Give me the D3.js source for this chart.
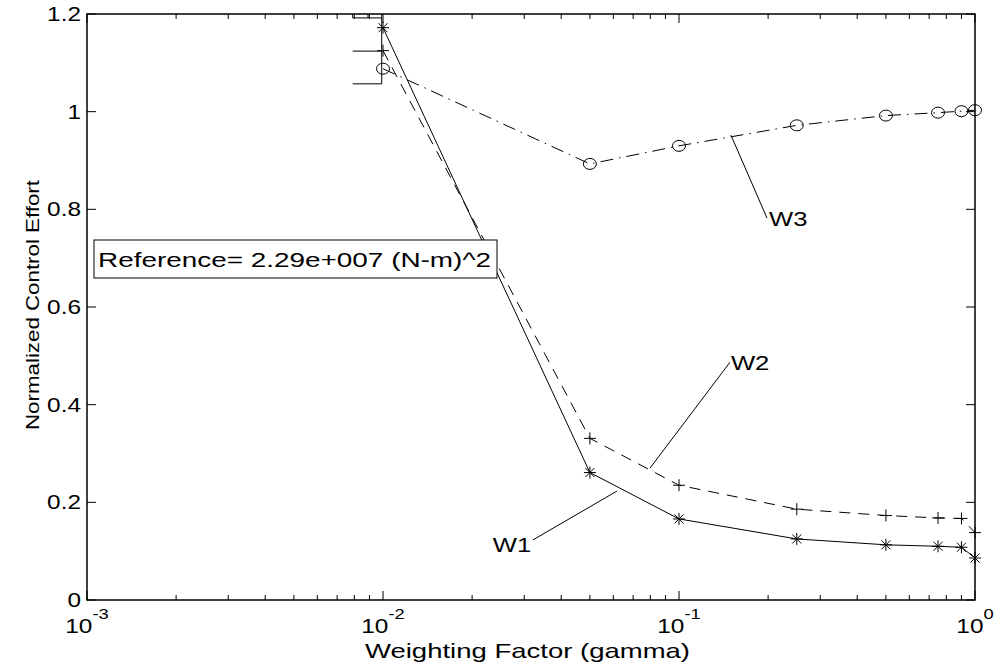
<!DOCTYPE html>
<html>
<head>
<meta charset="utf-8">
<script src="https://cdn.jsdelivr.net/npm/d3@7"></script>
<style>
  html, body { margin: 0; padding: 0; background: #fff; }
  svg { display: block; }
  text { font-family: "Liberation Sans", Arial, Helvetica, sans-serif; fill: #000; }
</style>
</head>
<body>
<svg id="chart" width="1000" height="667"></svg>
<script>
// ---- data ----
const gamma = [0.01, 0.05, 0.1, 0.25, 0.5, 0.75, 0.9, 1.0];
const w1 = [1.172, 0.261, 0.166, 0.125, 0.113, 0.110, 0.108, 0.086];
const w2 = [1.125, 0.331, 0.235, 0.186, 0.173, 0.168, 0.167, 0.138];
const w3 = [1.088, 0.893, 0.930, 0.972, 0.992, 0.998, 1.001, 1.003];
const yTicks = [0, 0.2, 0.4, 0.6, 0.8, 1, 1.2];
const yTickLabels = ["0", "0.2", "0.4", "0.6", "0.8", "1", "1.2"];
const xTicks = [1e-3, 1e-2, 1e-1, 1];
const xTickExps = ["-3", "-2", "-1", "0"];
const xTitle = "Weighting Factor (gamma)";
const yTitle = "Normalized Control Effort";
const refText = "Reference= 2.29e+007 (N-m)^2";
// stray clipped segments drawn near gamma = 0.01 (data coords)
const strays = [
  [[0.0079, 1.124], [0.0099, 1.124]],
  [[0.0079, 1.057], [0.0099, 1.057]],
  [[0.0099, 1.2], [0.0099, 1.057]],
  [[0.0079, 1.192], [0.0099, 1.192]],
  [[0.0079, 1.2], [0.0079, 1.192]],
  [[0.0089, 1.2], [0.0089, 1.192]]
];
// annotation labels (data coords): text position, pointer line from -> to
const labels = [
  {name: "W1", at: [0.0235, 0.098], from: [0.0321, 0.123], to: [0.0617, 0.223]},
  {name: "W2", at: [0.1498, 0.471], from: [0.1487, 0.487], to: [0.0798, 0.270]},
  {name: "W3", at: [0.2014, 0.766], from: [0.1983, 0.782], to: [0.1498, 0.952]}
];

// ---- layout ----
const L = 87, R = 975, T = 14, B = 600;
const SX = 1.22; // horizontal stretch of text glyphs
const svg = d3.select("#chart");
const x = d3.scaleLog().domain([1e-3, 1]).range([L, R]);
const y = d3.scaleLinear().domain([0, 1.2]).range([B, T]);

function stretchedText(px, py, str, size, anchor) {
  const g = svg.append("g").attr("transform", `translate(${px},${py}) scale(${SX},1)`);
  return g.append("text").attr("x", 0).attr("y", 0)
    .attr("font-size", size).attr("text-anchor", anchor || "start").text(str);
}

// ---- axes box ----
svg.append("rect").attr("x", L).attr("y", T).attr("width", R - L).attr("height", B - T)
  .attr("fill", "none").attr("stroke", "#000").attr("stroke-width", 1.5);

// y ticks (inward, both sides)
const majorLen = 9, minorLen = 5;
yTicks.forEach((v, i) => {
  const py = y(v);
  svg.append("line").attr("x1", L).attr("x2", L + majorLen).attr("y1", py).attr("y2", py)
    .attr("stroke", "#000").attr("stroke-width", 1);
  svg.append("line").attr("x1", R).attr("x2", R - majorLen).attr("y1", py).attr("y2", py)
    .attr("stroke", "#000").attr("stroke-width", 1);
  stretchedText(L - 6, py + 7, yTickLabels[i], 20, "end");
});

// x ticks: major + minor (log)
const minor = [];
for (let e = -3; e < 0; e++) for (let m = 2; m <= 9; m++) minor.push(m * Math.pow(10, e));
minor.forEach(v => {
  const px = x(v);
  svg.append("line").attr("x1", px).attr("x2", px).attr("y1", B).attr("y2", B - minorLen)
    .attr("stroke", "#000").attr("stroke-width", 1);
  svg.append("line").attr("x1", px).attr("x2", px).attr("y1", T).attr("y2", T + minorLen)
    .attr("stroke", "#000").attr("stroke-width", 1);
});
xTicks.forEach((v, i) => {
  const px = x(v);
  svg.append("line").attr("x1", px).attr("x2", px).attr("y1", B).attr("y2", B - majorLen)
    .attr("stroke", "#000").attr("stroke-width", 1);
  svg.append("line").attr("x1", px).attr("x2", px).attr("y1", T).attr("y2", T + majorLen)
    .attr("stroke", "#000").attr("stroke-width", 1);
  const g = svg.append("g").attr("transform", `translate(${px},633) scale(${SX},1)`);
  const t = g.append("text").attr("text-anchor", "middle").attr("font-size", 20);
  t.append("tspan").text("10");
  t.append("tspan").attr("dy", -14).attr("font-size", 15).text(xTickExps[i]);
});

// axis titles
svg.append("text").attr("x", 365).attr("y", 658).attr("font-size", 21)
  .attr("textLength", 325).attr("lengthAdjust", "spacingAndGlyphs").text(xTitle);
svg.append("text").attr("transform", "translate(39,430) rotate(-90)")
  .attr("x", 0).attr("y", 0).attr("font-size", 19)
  .attr("textLength", 250).attr("lengthAdjust", "spacingAndGlyphs").text(yTitle);

// ---- stray segments ----
strays.forEach(s => {
  svg.append("line").attr("x1", x(s[0][0])).attr("y1", y(s[0][1]))
    .attr("x2", x(s[1][0])).attr("y2", y(s[1][1]))
    .attr("stroke", "#000").attr("stroke-width", 1);
});

// ---- series lines ----
const line = d3.line().x(d => x(d[0])).y(d => y(d[1]));
function series(vals, dash) {
  const pts = gamma.map((g, i) => [g, vals[i]]);
  svg.append("path").datum(pts).attr("d", line).attr("fill", "none")
    .attr("stroke", "#000").attr("stroke-width", 1)
    .attr("stroke-dasharray", dash);
  return pts;
}
const p1 = series(w1, null);
const p2 = series(w2, "11,8");
const p3 = series(w3, "13,6,1.5,6");

// markers
const ms = 6;
p1.forEach(d => {
  const cx = x(d[0]), cy = y(d[1]);
  const g = svg.append("g").attr("stroke", "#000").attr("stroke-width", 1);
  g.append("line").attr("x1", cx - ms).attr("x2", cx + ms).attr("y1", cy).attr("y2", cy);
  g.append("line").attr("x1", cx).attr("x2", cx).attr("y1", cy - ms).attr("y2", cy + ms);
  g.append("line").attr("x1", cx - ms * 0.75).attr("x2", cx + ms * 0.75).attr("y1", cy - ms * 0.75).attr("y2", cy + ms * 0.75);
  g.append("line").attr("x1", cx - ms * 0.75).attr("x2", cx + ms * 0.75).attr("y1", cy + ms * 0.75).attr("y2", cy - ms * 0.75);
});
p2.forEach(d => {
  const cx = x(d[0]), cy = y(d[1]);
  const g = svg.append("g").attr("stroke", "#000").attr("stroke-width", 1);
  g.append("line").attr("x1", cx - ms).attr("x2", cx + ms).attr("y1", cy).attr("y2", cy);
  g.append("line").attr("x1", cx).attr("x2", cx).attr("y1", cy - ms).attr("y2", cy + ms);
});
p3.forEach(d => {
  svg.append("ellipse").attr("cx", x(d[0])).attr("cy", y(d[1])).attr("rx", 6.5).attr("ry", 5.5)
    .attr("fill", "none").attr("stroke", "#000").attr("stroke-width", 1);
});

// ---- annotations ----
labels.forEach(l => {
  svg.append("line").attr("x1", x(l.from[0])).attr("y1", y(l.from[1]))
    .attr("x2", x(l.to[0])).attr("y2", y(l.to[1]))
    .attr("stroke", "#000").attr("stroke-width", 1);
  stretchedText(x(l.at[0]), y(l.at[1]), l.name, 21, "start");
});

// reference box
svg.append("rect").attr("x", 94).attr("y", 240).attr("width", 403).attr("height", 38)
  .attr("fill", "#fff").attr("stroke", "#000").attr("stroke-width", 1);
svg.append("text").attr("x", 98).attr("y", 267).attr("font-size", 21)
  .attr("textLength", 393).attr("lengthAdjust", "spacingAndGlyphs").text(refText);
</script>
</body>
</html>
